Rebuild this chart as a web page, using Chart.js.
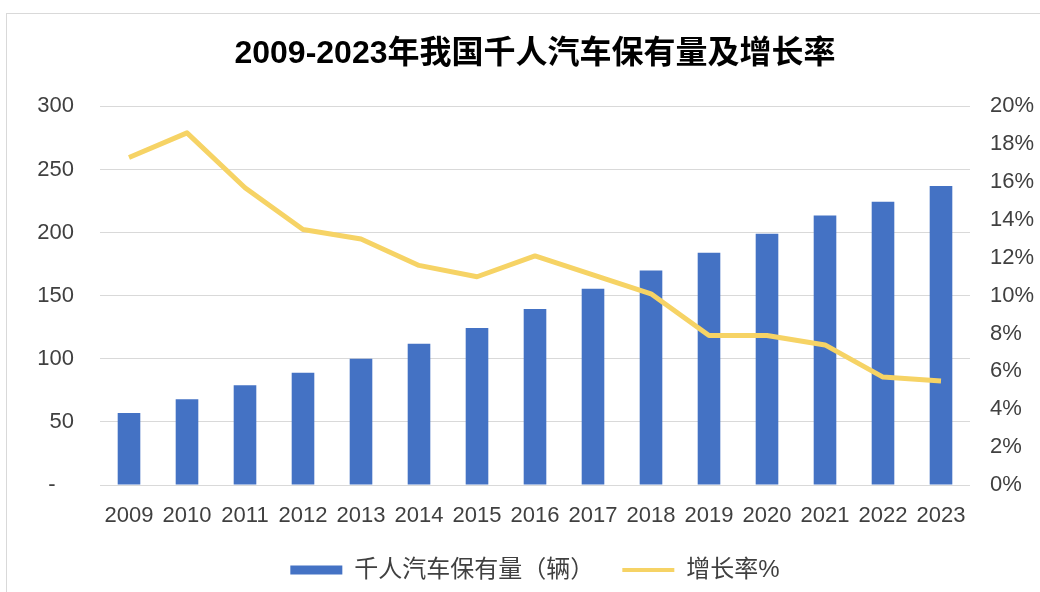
<!DOCTYPE html>
<html>
<head>
<meta charset="utf-8">
<script src="https://cdn.jsdelivr.net/npm/chart.js@4/dist/chart.umd.min.js"></script>
<style>
  html, body { margin: 0; padding: 0; background: #fff; overflow: hidden; }
  #frame { position: absolute; left: 6px; top: 13px; width: 1100px; height: 700px; border: 1px solid #d9d9d9; }
  #wrap { position: absolute; left: 0; top: 0; width: 1040px; height: 592px; }
</style>
</head>
<body>
<div id="frame"></div>
<div id="wrap"><canvas id="myChart"></canvas></div>
<script>
const years = ['2009','2010','2011','2012','2013','2014','2015','2016','2017','2018','2019','2020','2021','2022','2023'];
const carsPerThousand = [57, 68, 79, 89, 100, 112, 124.5, 139.5, 155.5, 170, 184, 199, 213.5, 224.5, 237];
const growthRate = [17.3, 18.6, 15.7, 13.5, 13.0, 11.6, 11.0, 12.1, 11.1, 10.1, 7.9, 7.9, 7.4, 5.7, 5.5];

const fontFam = "'Liberation Sans', 'Noto Sans CJK SC', sans-serif";
const blue = '#4472C4';
const yellow = '#F6D365';

const ctx = document.querySelector('#myChart').getContext('2d');
const myChart = new Chart(ctx, {
    data: {
        labels: years,
        datasets: [{
            type: 'line',
            label: '增长率%',
            data: growthRate,
            yAxisID: 'y1',
            borderColor: yellow,
            backgroundColor: yellow,
            borderWidth: 5,
            pointRadius: 0,
            tension: 0,
            borderJoinStyle: 'round',
            order: 0
        },
        {
            type: 'bar',
            label: '千人汽车保有量（辆）',
            data: carsPerThousand,
            yAxisID: 'y',
            backgroundColor: blue,
            barPercentage: 0.39,
            categoryPercentage: 1,
            order: 1
        }]
    },
    options: {
        responsive: true,
        maintainAspectRatio: false,
        animation: false,
        // left padding + narrower y axis keeps the plot at x=100 but nudges title/legend right
        layout: { padding: { left: 30, right: 0, top: 0, bottom: 0 } },
        plugins: {
            title: {
                display: true,
                text: '2009-2023年我国千人汽车保有量及增长率',
                color: '#000',
                font: { family: fontFam, size: 32, weight: 'bold', lineHeight: 1.2 },
                padding: { top: 35, bottom: 33 }
            },
            legend: {
                position: 'bottom',
                reverse: true,
                labels: {
                    usePointStyle: true,
                    pointStyleWidth: 52,
                    color: '#404040',
                    font: { family: fontFam, size: 24 },
                    padding: 28,
                    generateLabels: function (chart) {
                        const items = Chart.defaults.plugins.legend.labels.generateLabels(chart);
                        items.forEach(function (it) {
                            it.pointStyle = 'line';
                            if (it.datasetIndex === 1) { it.lineWidth = 9; it.strokeStyle = blue; }
                            else { it.lineWidth = 4; it.strokeStyle = yellow; }
                        });
                        return items;
                    }
                }
            },
            tooltip: { enabled: false }
        },
        scales: {
            x: {
                grid: { display: false },
                border: { display: false },
                ticks: {
                    color: '#404040',
                    font: { family: fontFam, size: 22 },
                    autoSkip: false,
                    maxRotation: 0,
                    padding: 10
                },
                afterFit: function (s) { s.height = 45; }
            },
            y: {
                position: 'left',
                min: 0,
                max: 300,
                grid: { color: '#d9d9d9', drawTicks: false },
                border: { display: false },
                ticks: {
                    stepSize: 50,
                    color: '#404040',
                    font: { family: fontFam, size: 22 },
                    padding: 26,
                    callback: function (v) { return v === 0 ? '-   ' : v; }
                },
                afterFit: function (s) { s.width = 70; }
            },
            y1: {
                position: 'right',
                min: 0,
                max: 20,
                grid: { display: false, drawTicks: false },
                border: { display: false },
                ticks: {
                    stepSize: 2,
                    color: '#404040',
                    font: { family: fontFam, size: 22 },
                    padding: 20,
                    callback: function (v) { return v + '%'; }
                },
                afterFit: function (s) { s.width = 70; }
            }
        }
    }
});
</script>
</body>
</html>
